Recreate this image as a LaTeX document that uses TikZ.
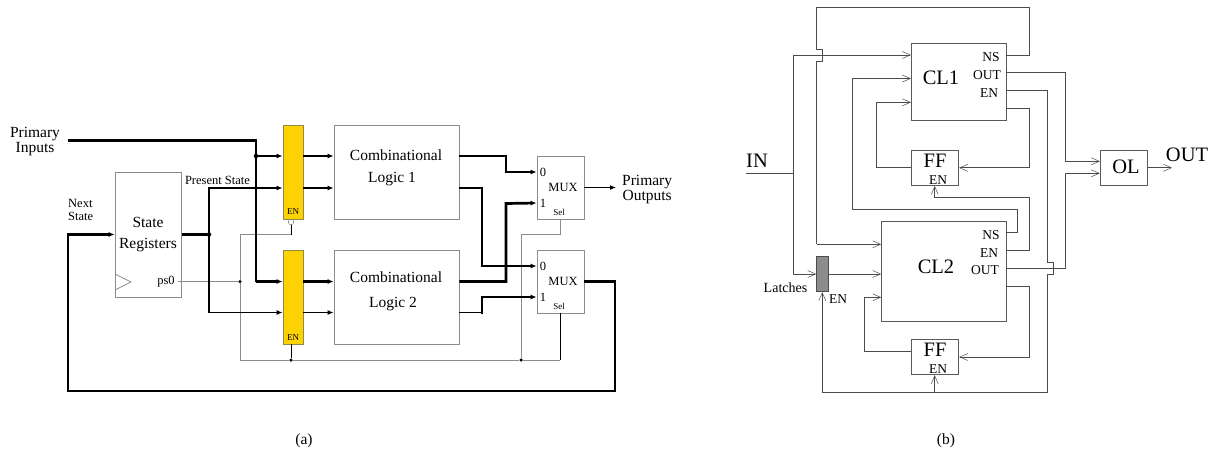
\documentclass[tikz,border=0pt]{standalone}
\usepackage{fontspec}
\setmainfont{Liberation Serif}
\usetikzlibrary{arrows.meta,calc}

\begin{document}
\begin{tikzpicture}[
  x=1pt,y=-1pt,
  box/.style={draw=black!45,line width=0.8pt,inner sep=0pt,align=center,font=\fontsize{15.5}{24}\selectfont},
  en/.style={box,draw=yellow!50!black,fill=yellow!85!red,minimum width=20pt,minimum height=94pt},
  cl/.style={box,minimum width=125pt,minimum height=94pt},
  mux/.style={box,minimum width=47pt,minimum height=63pt},
  bbox/.style={draw=black!65,line width=0.8pt,inner sep=0pt,font=\fontsize{21}{21}\selectfont},
  ff/.style={bbox,minimum width=47.4pt,minimum height=35.5pt},
  txt/.style={inner sep=0pt,align=center,font=\fontsize{12.5}{13}\selectfont},
  sm/.style={inner sep=0pt,font=\fontsize{9}{9}\selectfont},
  port/.style={inner sep=0pt,font=\fontsize{13.5}{13.5}\selectfont},
  big/.style={inner sep=0pt,font=\fontsize{20.5}{20.5}\selectfont},
  lbl/.style={inner sep=0pt,align=center,font=\fontsize{15.5}{16}\selectfont},
  dot/.style={circle,fill=black,inner sep=0pt,minimum size=4.5pt},
  hvy/.style={line width=2.7pt,line join=miter},
  med/.style={line width=1.7pt,line join=miter},
  thn/.style={draw=black!45,line width=0.8pt},
  ar/.style={-{Latex[length=6pt,width=5pt]}},
  wire/.style={draw=black!70,line width=0.8pt},
  bar/.style={wire,-{Straight Barb[length=8pt,width=7pt,line width=0.5pt]}}
]
\useasboundingbox (0,0) rectangle (1214,466);

% ---------------- (a): rows of the wires
\coordinate (r1) at (0,156);
\coordinate (r2) at (0,188);
\coordinate (r3) at (0,281.5);
\coordinate (r4) at (0,312.5);
\coordinate (rs) at (0,234.5);
\coordinate (rb) at (0,360);

% ---------------- (a): blocks
\node[en] (en1) at (293,172) {};
\node[en] (en2) at (293,297) {};
\node[cl] (cl1) at (396.5,172) {};
\node[cl] (cl2) at (396.5,297) {};
\node[lbl] (t1) at (396,155) {Combinational};
\node[lbl] (t2) at (392,179) {Logic 1};
\node[lbl] (t3) at (396,277) {Combinational};
\node[lbl] (t4) at (393,304) {Logic 2};
\node[sm] (e1) at (293,212) {EN};
\node[sm] (e2) at (293,338) {EN};
\node[draw=black!60,fill=white,circle,inner sep=0pt,minimum size=5.5pt] (neg) at (291,222) {};
\node[box,minimum width=66.5pt,minimum height=125pt] (reg) at (148.3,234.5) {};
\node[lbl] (t5) at (148,222) {State};
\node[lbl] (t6) at (148,245) {Registers};
\node[txt] (ps) at (166,282) {ps0};
\draw[thn] (115,274) -- (131,282) -- (115,290);
\node[mux] (m1) at (560.5,187.5) {};
\node[mux] (m2) at (560.5,281.5) {};
\foreach \m/\y in {m1/187.5,m2/281.5} {
  \node[txt] (\m x) at (563,\y) {MUX};
  \node[txt] (\m a) at (543,\y-15.5) {0};
  \node[txt] (\m b) at (543,\y+15.5) {1};
  \node[sm] (\m c) at (559,\y+24.5) {Sel};
}

% ---------------- (a): labels
\node[lbl] (pi) at (35,141.5) {Primary\\[-1pt]Inputs};
\node[lbl] (po) at (622,190) [anchor=west] {Primary\\[-1pt]Outputs};
\node[txt] (pres) at (217.5,180) {Present State};
\node[txt,align=left,anchor=west] (ns) at (68,209.5) {Next\\State};
\node[lbl] (capa) at (304,441) {(a)};
\node[lbl] (capb) at (946,441) {(b)};

% ---------------- (a): junctions
\node[dot] (d1) at (256,156) {};
\node[dot] (d2) at (209,234.5) {};
\node[dot,minimum size=3.5pt] (d3) at (240,281.5) {};
\node[dot,minimum size=3.5pt] (d4) at (291,360) {};
\node[dot,minimum size=3.5pt] (d5) at (521,360) {};
\coordinate (pin) at (68,140.5);
\coordinate (ntop) at (68,234.5);
\coordinate (nbot) at (68,391);
\coordinate (nrgt) at (615,391);
\coordinate (s1) at (560,234.5);
\coordinate (s2) at (560,360);

% ---------------- (a): enable wires
\draw[thn] ([xshift=3pt]ps.east |- d3) -- (d3);
\draw[thn] (d3) -- (d3 |- rb) -- (d4) -- (d5);
\draw[thn] (d3) -- (d3 |- rs) -- (neg.south |- rs);
\draw[black,line width=0.8pt] (neg.south |- rs) -- (neg.south);
\draw[black,line width=0.8pt] (d4 |- en2.south) -- (d4);
\draw[thn] (d5) -- (d5 |- rs) -- (s1) -- (s1 |- m1.south);
\draw[thn] (d5) -- (s2);
\draw[black,line width=0.8pt] (s2) -- (s2 |- m2.south);

% ---------------- (a): data wires
\draw[hvy] (pin) -| (d1 |- r3);
\foreach \a/\b/\c in {r1/en1/cl1,r3/en2/cl2}
  \draw[ar,hvy] (\b.east |- \a) -- (\c.west |- \a);
\draw[ar,hvy] (d1) -- (en1.west |- r1);
\draw[ar,hvy] (d1 |- r3) -- (en2.west |- r3);
\foreach \a/\b/\c in {r2/en1/cl1,r4/en2/cl2} {
  \draw[ar,med] (d2 |- \a) -- (\b.west |- \a);
  \draw[ar,med] (\b.east |- \a) -- (\c.west |- \a);
}
\draw[med,line cap=rect] (d2 |- r2) -- (d2 |- r4);
\draw[hvy] (reg.east |- rs) -- (d2);
\draw[ar,hvy,line width=2.2pt] (m2.east |- r3) -- (nrgt |- r3) -- (nrgt) -- (nbot) -- (ntop) -- (reg.west |- ntop);

\draw[ar,hvy] (cl1.east |- r1) -- (506,156) -- (506,172) -- (m1.west |- m1a);
\draw[ar,med] (cl1.east |- r2) -- (482,188) -- (482,266) -- (m2.west |- m2a);
\draw[ar,hvy] (cl2.east |- r3) -- (506,281.5) -- (506,203.5) -- (m1.west |- m1b);
\draw[med] (cl2.east |- r4) -- (482,312.5);
\draw[ar,hvy] (482,313.5) -- (482,297) -- (m2.west |- m2b);
\draw[ar,med] (m1.east) -- (616,187.5);

% ---------------- (b): blocks
\node[bbox,minimum width=94.7pt,minimum height=77pt] (c1) at (958.7,81.8) {};
\node[bbox,minimum width=124.3pt,minimum height=100.3pt] (c2) at (943.8,271.2) {};
\node[big] (c1t) at (941,78) {CL1};
\node[big] (c2t) at (936,267) {CL2};
\node[ff] (f1) at (935,167.8) {};
\node[ff] (f2) at (935,357) {};
\node[big] (f1t) at (935,161) {FF};
\node[big] (f2t) at (935,350) {FF};
\node[port] (f1e) at (938,180) {EN};
\node[port] (f2e) at (938,369.5) {EN};
\node[ff] (ol) at (1124,167.8) {};
\node[big] (olt) at (1126,167) {OL};
\node[draw=black!70,fill=black!45,line width=0.8pt,inner sep=0pt,minimum width=12pt,minimum height=35.4pt] (lat) at (822.7,274) {};

\node[port] (p1) at (991,57) {NS};
\node[port] (p2) at (987,75) {OUT};
\node[port] (p3) at (989,93) {EN};
\node[port] (p4) at (991,235) {NS};
\node[port] (p5) at (989,253) {EN};
\node[port] (p6) at (985,270) {OUT};
\node[big] (inl) at (757,161) {IN};
\node[big] (outl) at (1187,155) {OUT};
\node[inner sep=0pt,font=\fontsize{14}{14}\selectfont] (latl) at (785.5,287.5) {Latches};
\node[port] (latn) at (838,299) {EN};

% ---------------- (b): free ends and wire tracks
\coordinate (in) at (746,173.5);
\coordinate (in2) at (793.3,173.5);
\coordinate (out) at (1172,167.8);

% inputs
\draw[wire] (in) -- (in2);
\draw[wire] (793.3,55) -- (793.3,274);
\draw[bar] (793.3,55) -- (c1.west |- 0,55);
\draw[bar] (793.3,274) -- (lat.west);
\draw[bar] (lat.east) -- (c2.west |- lat.east);

% next state loops, with the jogs over the crossing wires
\draw[wire] (c1.east |- 0,55) -- (1029.7,55) -- (1029.7,7.7) -- (816.7,7.7) -- (816.7,49) -- (822.5,49)
  -- (822.5,61) -- (816.7,61) -- (816.7,244.3);
\draw[bar] (816.7,244.3) -- (c2.west |- 0,244.3);
\draw[bar] (c2.east |- 0,232.3) -- (1017.7,232.3) -- (1017.7,209.5) -- (852.7,209.5) -- (852.7,78.5) -- (c1.west |- 0,78.5);

% flip-flops
\draw[bar] (f1.west) -- (876,167.8) -- (876,102.3) -- (c1.west |- 0,102.3);
\draw[bar] (c1.east |- 0,108.3) -- (1029.7,108.3) -- (1029.7,167.8) -- (f1.east);
\draw[bar] (f2.west |- 0,351) -- (864.3,351) -- (864.3,297.3) -- (c2.west |- 0,297.3);
\draw[bar] (c2.east |- 0,286) -- (1029.7,286) -- (1029.7,357) -- (f2.east);

% enables
\draw[bar] (c2.east |- 0,250.3) -- (1029.7,250.3) -- (1029.7,197) -- (934.7,197) -- (f1.south -| 934.7,0);
\draw[wire] (c1.east |- 0,90.5) -- (1047.3,90.5) -- (1047.3,262.3) -- (1053.7,262.3) -- (1053.7,274.3) -- (1047.3,274.3)
  -- (1047.3,392.3) -- (822.3,392.3);
\draw[bar] (822.3,392.3) -- (lat.south -| 822.3,0);
\draw[bar] (934.7,392.3) -- (f2.south -| 934.7,0);

% output logic
\draw[bar] (c1.east |- 0,72.5) -- (1065.3,72.5) -- (1065.3,161.3) -- (ol.west |- 0,161.3);
\draw[bar] (c2.east |- 0,268.3) -- (1065.3,268.3) -- (1065.3,173.3) -- (ol.west |- 0,173.3);
\draw[bar] (ol.east) -- (out);
\end{tikzpicture}
\end{document}
